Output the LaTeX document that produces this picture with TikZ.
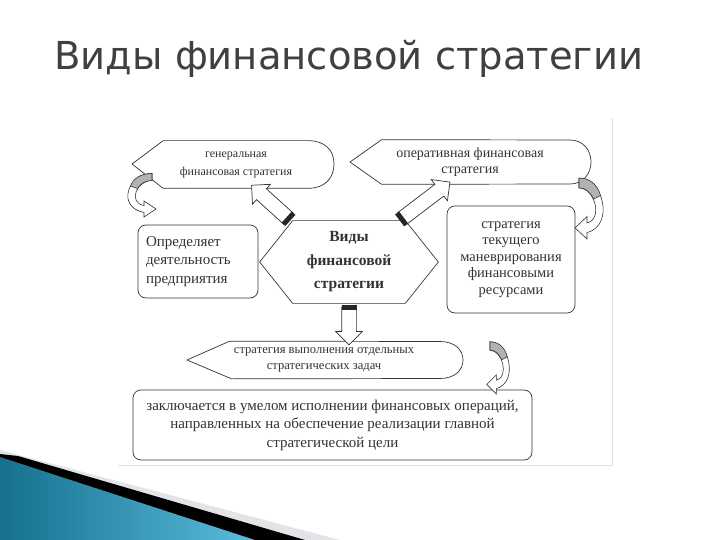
\documentclass[tikz,border=0pt]{standalone}
\usepackage{fontspec}
\setmainfont{Liberation Serif}
\newfontfamily\titlefont{DejaVu Sans}
\usepackage{tikz}
\usetikzlibrary{positioning, arrows.meta, shapes.arrows}
\definecolor{azuloscuro}{HTML}{16708E}
\definecolor{azulclaro}{HTML}{5BBCDD}

\begin{document}
\begin{tikzpicture}[
    x=1pt, y=-1pt,
    every node/.style={draw=none, align=center, inner sep=0pt},
    every path/.style={line width=0.7pt, black!80},
    caja/.style={draw, fill=white, rounded corners=8pt, font=\fontsize{15}{18.5}\selectfont},
    textoc/.style={font=\fontsize{12}{18}\selectfont},
    bloque/.style={single arrow, draw, fill=white, sloped, allow upside down, inner sep=7pt,
        single arrow head extend=6pt, single arrow tip angle=90, single arrow head indent=0pt},
    tapa/.style={fill=black!85, sloped, allow upside down, anchor=west, minimum width=5pt, minimum height=15pt},
    curva/.pic={
        \filldraw[fill=white, line width=0.6pt] (0,-3.5) .. controls (-24,-3.5) and (-36,30) .. (-8,35.5)
            -- (-8,40) -- (4,32) -- (-8,24) -- (-8,28.5) .. controls (-24,26) and (-16,3.5) .. (0,3.5) -- cycle;
        \filldraw[fill=black!30, line width=0.6pt] (0,-3.5) .. controls (-12,-3.5) and (-19,2) .. (-21.5,9)
            -- (-14.5,11.5) .. controls (-11,6) and (-6,3.5) .. (0,3.5) -- cycle;
    }
]
\useasboundingbox (0,0) rectangle (720,540);

% Decoración
\fill[fill=white] (0,0) rectangle (720,540);
\draw[gray!25, line width=0.6pt] (118,465) -- (612,465) -- (612,118);
\fill[fill=blue!8!gray!20] (0,450) -- (340,540) -- (0,540) -- cycle;
\fill[fill=black] (0,454) -- (18,456) -- (305,540) -- (0,540) -- cycle;
\shade[left color=azuloscuro, right color=azulclaro] (0,457) -- (255,540) -- (0,540) -- cycle;

% Título
\node[anchor=base west, font=\titlefont\fontsize{38.5}{44}\selectfont, text=black!75] (titulo) at (54,70) {Виды финансовой стратегии};

% Nodos
\node[textoc, minimum width=145pt, minimum height=47pt] (gen) at (236,164.5) {генеральная\\финансовая стратегия};
\node[textoc, font=\fontsize{14}{16.5}\selectfont, minimum width=173pt, minimum height=44pt] (oper) at (470,162) {оперативная финансовая\\стратегия};
\node[font=\bfseries\fontsize{15.5}{23.5}\selectfont, minimum width=112pt, minimum height=82pt] (vidy) at (349,262) {Виды\\финансовой\\стратегии};
\node[caja, minimum width=120pt, minimum height=73pt, text width=104pt, align=left] (opr) at (198,261.5) {Определяет\\деятельность\\предприятия};
\node[caja, font=\fontsize{14.5}{16.5}\selectfont, minimum width=128pt, minimum height=107pt] (tek) at (511,259.5) {стратегия\\текущего\\маневрирования\\финансовыми\\ресурсами};
\node[textoc, font=\fontsize{12.6}{15.5}\selectfont, minimum width=186pt, minimum height=37pt] (vyp) at (324,360) {стратегия выполнения отдельных\\стратегических задач};
\node[caja, minimum width=399pt, minimum height=70pt] (zakl) at (332.5,425) {заключается в умелом исполнении финансовых операций,\\направленных на обеспечение реализации главной\\стратегической цели};

% Contornos
\draw (gen.north west) -- (132,164) -- (gen.south west) -- (gen.south east)
    .. controls (325,188) and (334,178) .. (334,164) .. controls (334,150) and (325,141) .. (gen.north east) -- cycle;
\draw ([xshift=-1.5pt]oper.north west) -- (350,162) -- ([xshift=-1.5pt]oper.south west) -- (570,184)
    .. controls (583,184) and (591,174) .. (591,162) .. controls (591,150) and (583,140) .. (570,140) -- cycle;
\draw ([xshift=-1pt]vyp.north west) -- (187,360) -- ([xshift=1pt]vyp.south west) -- (440,378.5)
    .. controls (455,378.5) and (463,370) .. (463,360) .. controls (463,350) and (455,341.5) .. (440,341.5) -- cycle;
\draw (vidy.north west) -- (vidy.north east) -- ([xshift=33pt]vidy.east) -- (vidy.south east)
    -- (vidy.south west) -- ([xshift=-33pt]vidy.west) -- cycle;

% Flechas de bloque
\path ([xshift=-2pt]vidy.north west) -- node[bloque, minimum height=50pt] {} node[tapa, pos=0] {} ([xshift=19pt]gen.south);
\path ([xshift=-6pt]vidy.north east) -- node[bloque, minimum height=60pt] {} node[tapa, pos=0] {} ([xshift=-23pt]oper.south);
\path (vidy.south) -- node[bloque, minimum height=38pt] {} node[tapa, pos=0.04] {} (vidy.south |- vyp.north);

% Flechas curvas
\pic at (152,177) {curva};
\pic[xscale=-1, yscale=1.4] at (579,183) {curva};
\pic[xscale=-0.8, yscale=1.2] at (490,346) {curva};

\end{tikzpicture}
\end{document}
